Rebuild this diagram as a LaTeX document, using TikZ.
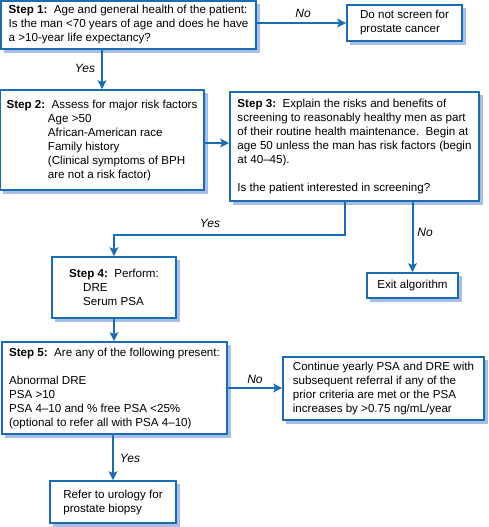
\documentclass[tikz,border=0pt]{standalone}
\usepackage{fontspec}
\setmainfont{Liberation Sans}
\usetikzlibrary{arrows.meta,backgrounds}
\definecolor{boxblue}{RGB}{28,108,178}
\definecolor{shadeblue}{RGB}{168,190,230}

\begin{document}
\begin{tikzpicture}[x=0.75pt,y=-0.75pt,
  font=\fontsize{8.7}{10.5}\selectfont,
  stepbox/.style={draw=boxblue,line width=1.4pt,fill=white,align=left,inner sep=0pt},
  flow/.style={draw=boxblue,line width=1.5pt,-{Stealth[length=6.5pt,width=6.5pt,inset=1.2pt]}},
  answer/.style={font=\fontsize{9}{10.5}\selectfont\itshape}]
  \useasboundingbox (0,0) rectangle (488,527);
  \node[stepbox,minimum width=191.25pt,minimum height=36pt] (step1) at (128.5,25)
    {\textbf{Step 1:}\ \ Age and general health of the patient:\\
     Is the man <70 years of age and does he have\\
     a >10-year life expectancy?};
  \node[stepbox,minimum width=86.25pt,minimum height=27pt] (noscreen) at (404.5,23)
    {Do not screen for\\prostate cancer};
  \node[stepbox,minimum width=153pt,minimum height=75pt] (step2) at (102,140)
    {\textbf{Step 2:}\ \ Assess for major risk factors\\
     \hspace*{31pt}Age >50\\
     \hspace*{31pt}African-American race\\
     \hspace*{31pt}Family history\\
     \hspace*{31pt}(Clinical symptoms of BPH\\
     \hspace*{31pt}are not a risk factor)};
  \node[stepbox,minimum width=186.75pt,minimum height=81.75pt] (step3) at (354.5,146.5)
    {\textbf{Step 3:}\ \ Explain the risks and benefits of\\
     screening to reasonably healthy men as part\\
     of their routine health maintenance.\ \ Begin at\\
     age 50 unless the man has risk factors (begin\\
     at 40--45).\\[10.5pt]
     Is the patient interested in screening?};
  \node[stepbox,minimum width=93pt,minimum height=45.75pt] (step4) at (114,287.5)
    {\textbf{Step 4:}\ \ Perform:\\
     \hspace*{10.5pt}DRE\\
     \hspace*{10.5pt}Serum PSA};
  \node[stepbox,minimum width=68.25pt,minimum height=18.75pt] (exit) at (412.5,285.5)
    {Exit algorithm};
  \node[stepbox,minimum width=168.75pt,minimum height=69pt] (step5) at (114.5,388)
    {\textbf{Step 5:}\ \ Are any of the following present:\\[10.5pt]
     Abnormal DRE\\
     PSA >10\\
     PSA 4--10 and \% free PSA <25\%\\
     (optional to refer all with PSA 4--10)};
  \node[stepbox,minimum width=150.75pt,minimum height=47.25pt] (cont) at (383.5,388.5)
    {Continue yearly PSA and DRE with\\
     subsequent referral if any of the\\
     prior criteria are met or the PSA\\
     increases by >0.75 ng/mL/year};
  \node[stepbox,minimum width=94.5pt,minimum height=31.5pt] (refer) at (113,502)
    {Refer to urology for\\prostate biopsy};
  \begin{scope}[on background layer]
    \foreach \nd in {step1,noscreen,step2,step3,step4,exit,step5,cont,refer}
      \fill[shadeblue] ([shift={(2.6pt,-2.6pt)}]\nd.south west)
        rectangle ([shift={(2.6pt,-2.6pt)}]\nd.north east);
  \end{scope}
  \draw[flow] (step1.east |- noscreen.west) -- (noscreen.west);
  \draw[flow] (step2.north |- step1.south) -- (step2.north);
  \draw[flow] ([yshift=-2.25pt]step2.east) -- ([yshift=-2.25pt]step2.east -| step3.west);
  \draw[flow] (step3.south -| 345,0) |- (step4.north |- 0,235) -- (step4.north);
  \draw[flow] (exit.north |- step3.south) -- (exit.north);
  \draw[flow] (step4.south) -- (step4.south |- step5.north);
  \draw[flow] (step5.east) -- (step5.east -| cont.west);
  \draw[flow] (refer.north |- step5.south) -- (refer.north);
  \node[answer] (no1) at (303,13) {No};
  \node[answer] (yes1) at (85,68) {Yes};
  \node[answer] (yes2) at (210,223) {Yes};
  \node[answer] (no2) at (425,232) {No};
  \node[answer] (no3) at (255,379) {No};
  \node[answer] (yes3) at (130,458) {Yes};
\end{tikzpicture}
\end{document}
